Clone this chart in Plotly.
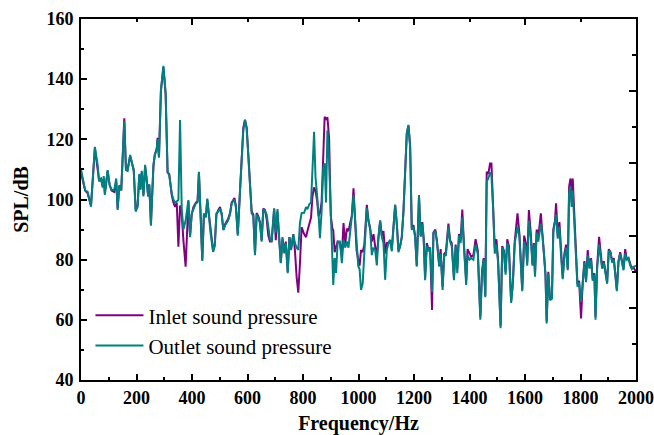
import plotly.graph_objects as go

freq = [
    0, 8, 15, 24, 36, 50, 60, 65, 72, 78,
    82, 86, 96, 103, 110, 120, 127, 132, 138, 145,
    156, 162, 168, 177, 184, 190, 197, 204, 210, 214,
    219, 225, 231, 236, 242, 246, 252, 261, 266, 273,
    276, 281, 288, 297, 305, 312, 318, 327, 333, 339,
    345, 351, 357, 363, 369, 377, 387, 393, 399, 405,
    414, 420, 425, 431, 437, 443, 450, 455, 460, 467,
    476, 482, 488, 495, 501, 507, 513, 520, 530, 537,
    543, 553, 558, 565, 573, 579, 585, 591, 597, 603,
    609, 615, 621, 627, 633, 639, 645, 651, 657, 663,
    669, 675, 681, 687, 696, 702, 708, 715, 720, 726,
    732, 738, 745, 751, 757, 765, 771, 777, 783, 789,
    795, 804, 811, 816, 823, 829, 834, 840, 845, 851,
    856, 861, 867, 873, 878, 883, 888, 894, 900, 906,
    909, 914, 919, 925, 933, 940, 946, 952, 958, 964,
    970, 976, 982, 988, 993, 999, 1004, 1009, 1015, 1021,
    1030, 1036, 1042, 1048, 1054, 1060, 1066, 1072, 1078, 1084,
    1090, 1096, 1102, 1108, 1114, 1120, 1126, 1132, 1138, 1144,
    1150, 1156, 1162, 1168, 1174, 1180, 1186, 1192, 1198, 1204,
    1210, 1218, 1224, 1230, 1235, 1240, 1246, 1252, 1258, 1265,
    1270, 1277, 1283, 1291, 1296, 1303, 1309, 1315, 1324, 1330,
    1336, 1344, 1350, 1356, 1362, 1368, 1374, 1380, 1388, 1393,
    1400, 1406, 1414, 1422, 1430, 1439, 1445, 1451, 1457, 1462,
    1468, 1474, 1479, 1485, 1491, 1497, 1503, 1512, 1518, 1524,
    1530, 1536, 1542, 1550, 1556, 1563, 1573, 1580, 1586, 1590,
    1597, 1604, 1608, 1614, 1621, 1627, 1632, 1636, 1642, 1648,
    1657, 1663, 1670, 1674, 1678, 1684, 1690, 1697, 1702, 1708,
    1712, 1718, 1724, 1730, 1736, 1742, 1748, 1754, 1759, 1764,
    1768, 1772, 1778, 1784, 1789, 1795, 1802, 1808, 1814, 1820,
    1826, 1832, 1838, 1844, 1850, 1854, 1860, 1867, 1872, 1878,
    1884, 1891, 1896, 1902, 1908, 1914, 1920, 1931, 1937, 1943,
    1949, 1955, 1961, 1967, 1973, 1979, 1985, 1990, 2000,
]

outlet = [
    110, 106, 103, 102.5, 97.6, 117.5, 111.5, 106, 107, 104,
    107.8, 101.5, 109.8, 104.8, 103.2, 103.2, 107, 96.5, 104.8, 103,
    126, 109.8, 109.5, 114.8, 111.5, 109.5, 96, 97.5, 108.5, 103.2,
    109.5, 101, 111.5, 107, 101, 105, 91.3, 111.5, 114.8, 116.5,
    120, 114, 136.4, 144.4, 135.3, 109.2, 108, 102, 100, 99,
    99.5, 99.8, 126.4, 97, 90, 93, 99.8, 87.5, 95.4, 97,
    98.7, 99, 109.2, 95, 79.6, 95.4, 94, 100.3, 95.4, 88.8,
    82.6, 84.5, 95.4, 96, 97, 95.4, 89.8, 91.5, 93, 95,
    98.7, 100, 97.5, 88, 103.2, 114.2, 123.1, 126.4, 123.5, 114.2,
    103.2, 95.4, 94.5, 81.5, 95, 94, 92, 86, 96.8, 96.2,
    95, 90.5, 87, 86, 97, 89, 96.8, 85.5, 78.8, 87.5,
    82.1, 85.5, 75.5, 87.5, 83.2, 88.4, 85.5, 84, 83.2, 92.2,
    95.5, 95.6, 97.5, 96.8, 98.5, 99, 107.6, 122.5, 107.6, 102,
    95.5, 87.1, 96, 110.5, 112, 99, 123, 113, 94.6, 82.1,
    71.6, 80.5, 75.6, 86, 86, 78.8, 86.5, 84, 86, 84,
    88.5, 94.5, 101.5, 92.2, 83.2, 77.9, 76.8, 69.9, 72, 84,
    97.2, 92.8, 90, 81.5, 84, 83.2, 78.1, 87.5, 93, 87.5,
    85.5, 73.3, 83.2, 85.5, 86.5, 82.8, 92, 98.2, 92, 82.5,
    84.5, 87.5, 96, 111.5, 122, 124.8, 117.5, 89.9, 91, 87.5,
    77.7, 101.5, 87.6, 92, 86.5, 73.2, 84.5, 82.8, 84, 69.3,
    88.8, 89.5, 85.5, 77.7, 82, 69.9, 81.5, 81.5, 91, 86,
    84.5, 73.2, 84.5, 75.5, 88, 85.5, 94, 84.5, 71.6, 81.5,
    80, 80.5, 80, 85, 82, 60, 75, 80, 67.5, 106,
    107, 109, 108, 97, 82, 85, 79, 57.2, 84, 82.5,
    75, 85.5, 83.5, 65.6, 71.5, 85.5, 91, 87.5, 78, 69.5,
    86, 84, 78, 93, 87, 78, 85, 74.3, 89, 86,
    92, 88, 80, 74, 58.8, 75.5, 66.5, 67, 89, 92,
    95, 87, 91, 81, 73.5, 81, 84, 76.5, 102, 104.5,
    97.5, 103, 92, 82, 71, 72.5, 66, 72, 79, 72.5,
    81.5, 77, 80, 73, 75, 60, 77, 85, 80.5, 77,
    79, 75.5, 72, 83, 82.5, 79, 80, 69.5, 79.5, 82,
    79.5, 76.5, 82, 80, 80.5, 78, 77, 77.5, 78,
]

inlet = [
    109, 105.5, 103, 102, 98, 117, 111, 106.5, 107, 104.5,
    107, 102, 109.5, 105, 103, 102.5, 106, 97, 104.5, 103,
    127, 110, 110, 114.5, 112, 110, 96.5, 98, 108, 103.5,
    109, 101.5, 111, 107.5, 101, 105, 92, 111, 115, 117,
    120.5, 114, 136, 144, 135, 109, 108.5, 101.5, 99, 97.5,
    99, 84.3, 98, 95, 86.5, 77.7, 99.5, 88, 95, 97.5,
    99, 99.5, 109, 95.5, 80, 95, 94.5, 100, 96, 89,
    83, 85, 95, 96.5, 97.5, 95, 90, 92, 93.5, 95.5,
    99, 100.5, 98, 88.5, 103.5, 114.5, 124, 126.5, 124, 115,
    104, 96, 95, 82, 95.5, 94.5, 92.5, 86.5, 97, 96.5,
    93.5, 88, 86, 86, 97, 86.5, 96, 86, 79, 87,
    83, 86, 76, 87.5, 83.5, 88.5, 83, 74.3, 69, 78.8,
    90.8, 88.5, 87.5, 89.5, 92, 94, 101, 104, 103, 99.5,
    94.5, 95.5, 99, 115.3, 127.5, 126.5, 127.3, 120.5, 94.6, 90.3,
    89.8, 82.5, 84, 86, 85.5, 81.5, 92.2, 85, 90.3, 89.5,
    92.2, 94.5, 103.7, 92.2, 83.2, 80, 78, 83.2, 82.5, 85,
    98.2, 93, 90.5, 86, 88.5, 84.5, 81, 87.5, 93, 88,
    89.5, 82, 85.5, 85.5, 86.5, 83.5, 92, 98.2, 92, 83,
    84.5, 87.5, 96, 112, 122, 124.5, 118, 90.5, 91.5, 88,
    78, 101, 88, 92.5, 87, 74, 85.5, 83.5, 84, 63.3,
    89, 90, 86, 78, 83.5, 71, 82, 82.5, 92, 86.5,
    85.5, 74, 85, 77, 88.5, 86.5, 96.7, 85, 73, 83.5,
    82, 81, 81.5, 86.8, 83, 61, 76, 80.5, 68, 109.2,
    108.5, 112, 112, 98, 84, 86.8, 80, 58, 84.5, 83,
    76, 86.8, 84.5, 66, 72, 86, 95.4, 88.5, 78.5, 70,
    88, 85, 79, 96.5, 88.5, 78.5, 85.5, 75, 90, 87.5,
    95.4, 89, 81, 75, 59.5, 76, 67, 67.5, 90, 93,
    98.7, 88, 92.5, 82, 74, 82, 85, 77, 104.3, 107,
    99, 107, 93, 83, 72, 73, 60.5, 72.5, 79.5, 73,
    83.2, 77.5, 80.5, 73.5, 75.5, 61, 78, 87.6, 82.5, 77.5,
    79.5, 75.5, 72.5, 83.5, 82.5, 79.5, 80.5, 70, 79.5, 82.5,
    79.5, 77, 83.5, 80, 80.5, 78.5, 77, 77.5, 76,
]

assert len(freq) == len(outlet) == len(inlet), (len(freq), len(outlet), len(inlet))

FONT = "Liberation Serif"
PURPLE = "#800080"
TEAL = "#008080"

fig = go.Figure()
fig.add_trace(go.Scatter(x=freq, y=inlet, mode="lines", name="Inlet sound pressure",
                         line=dict(color=PURPLE, width=2)))
fig.add_trace(go.Scatter(x=freq, y=outlet, mode="lines", name="Outlet sound pressure",
                         line=dict(color=TEAL, width=2)))
# dummy trace to carry the mirrored top/right frame axes
fig.add_trace(go.Scatter(x=[None], y=[None], xaxis="x2", yaxis="y2",
                         showlegend=False, hoverinfo="skip"))

tickfont = dict(family=FONT, size=18, color="black", weight="bold")
titlefont = dict(family=FONT, size=20, color="black", weight="bold")

fig.update_layout(
    width=654, height=435,
    margin=dict(l=81, r=18, t=19, b=55),
    paper_bgcolor="white", plot_bgcolor="white",
    showlegend=True,
    legend=dict(x=0.017, y=0.235, xanchor="left", yanchor="top",
                bgcolor="rgba(0,0,0,0)", tracegroupgap=0, itemwidth=48,
                font=dict(family=FONT, size=21, color="black")),
    xaxis=dict(range=[0, 2000], dtick=200, tick0=0, showgrid=False, zeroline=False,
               automargin=False,
               showline=True, linecolor="black", linewidth=2,
               ticks="inside", ticklen=6, tickwidth=1.5, tickcolor="black",
               minor=dict(dtick=100, ticks="inside", ticklen=3, tickwidth=1.5, tickcolor="black", showgrid=False),
               tickfont=tickfont, ticklabelstandoff=0,
               title=dict(text="Frequency/Hz", font=titlefont, standoff=19)),
    yaxis=dict(range=[40, 160], dtick=20, tick0=40, showgrid=False, zeroline=False,
               automargin=False,
               showline=True, linecolor="black", linewidth=2,
               ticks="inside", ticklen=6, tickwidth=1.5, tickcolor="black",
               minor=dict(dtick=10, ticks="inside", ticklen=3, tickwidth=1.5, tickcolor="black", showgrid=False),
               tickfont=tickfont, ticklabelstandoff=2,
               title=dict(text="SPL/dB", font=titlefont, standoff=12)),
    xaxis2=dict(overlaying="x", side="top", anchor="y", range=[0, 2000], dtick=400, tick0=0,
                automargin=False,
                showgrid=False, zeroline=False, showticklabels=False,
                showline=True, linecolor="black", linewidth=2,
                ticks="inside", ticklen=6, tickwidth=1.5, tickcolor="black",
                minor=dict(dtick=200, ticks="inside", ticklen=3, tickwidth=1.5, tickcolor="black", showgrid=False)),
    yaxis2=dict(overlaying="y", side="right", anchor="x", range=[0, 10], dtick=2, tick0=0,
                automargin=False,
                showgrid=False, zeroline=False, showticklabels=False,
                showline=True, linecolor="black", linewidth=2,
                ticks="inside", ticklen=7, tickwidth=1.5, tickcolor="black",
                minor=dict(dtick=1, ticks="inside", ticklen=4, tickwidth=1.5, tickcolor="black", showgrid=False)),
)

fig.write_html("out.html")
